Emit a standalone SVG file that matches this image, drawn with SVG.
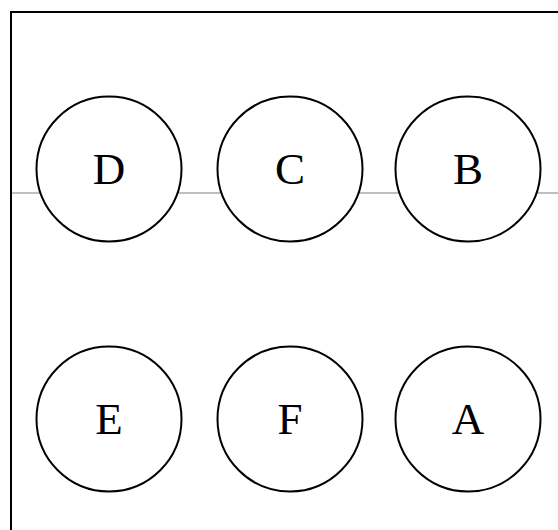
<svg xmlns="http://www.w3.org/2000/svg" width="558" height="530" viewBox="0 0 558 530">
<style>
.n circle{fill:#fff;stroke:#000;stroke-width:2}
.n text{font-family:"Liberation Serif","DejaVu Serif",serif;font-size:45px;text-anchor:middle;fill:#000}
</style>
<rect x="0" y="0" width="558" height="530" fill="#fff"/>
<rect x="11" y="12" width="600" height="600" fill="none" stroke="#000" stroke-width="2"/>
<g id="connectors">
<line x1="12" y1="193" x2="558" y2="193" stroke="#aaa" stroke-width="1.3"/>
</g>
<g id="D" class="n"><circle cx="109" cy="169" r="72.5"/><text x="109" y="183.5">D</text></g>
<g id="C" class="n"><circle cx="290" cy="169" r="72.5"/><text x="290" y="183.5">C</text></g>
<g id="B" class="n"><circle cx="468" cy="169" r="72.5"/><text x="468" y="183.5">B</text></g>
<g id="E" class="n"><circle cx="109" cy="419" r="72.5"/><text x="109" y="434">E</text></g>
<g id="F" class="n"><circle cx="290" cy="419" r="72.5"/><text x="290" y="434">F</text></g>
<g id="A" class="n"><circle cx="468" cy="419" r="72.5"/><text x="468" y="434">A</text></g>
</svg>
